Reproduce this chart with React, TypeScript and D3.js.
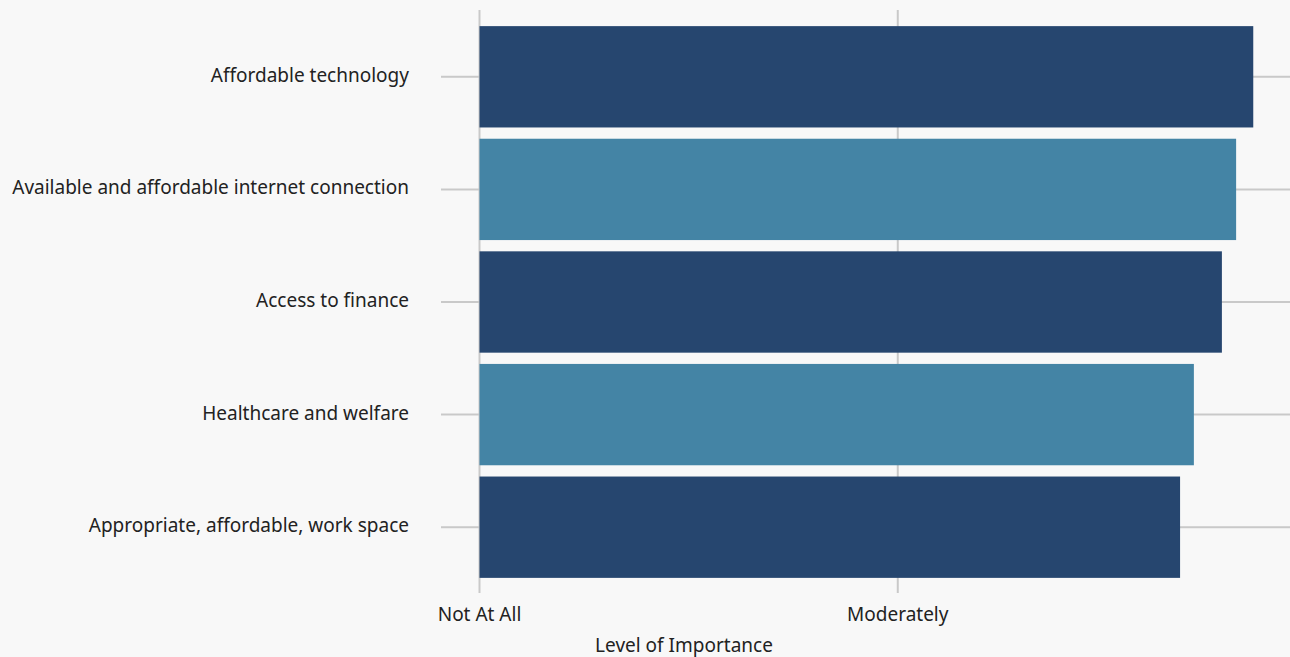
import React from "react";
import * as d3 from "d3";

const categories = [
  "Affordable technology",
  "Available and affordable internet connection",
  "Access to finance",
  "Healthcare and welfare",
  "Appropriate, affordable, work space",
];
const values = [1.85, 1.809, 1.775, 1.708, 1.675];
const tickValues = [0, 1];
const tickLabels = ["Not At All", "Moderately"];
const colors = ["#26466f", "#4484a5"];

const W = 1290;
const H = 657;
const FONT = "'Noto Sans', sans-serif";
const FS = 19;

export default function App() {
  const x = d3.scaleLinear().domain([0, 2]).range([479.5, 1316]);
  const y = d3
    .scaleBand<string>()
    .domain(categories)
    .range([20.5, 583.5])
    .paddingInner(0.1)
    .paddingOuter(0.05);
  const grid = "#c9c9c9";
  return (
    <svg
      width={W}
      height={H}
      style={{ position: "fixed", left: 0, top: 0, background: "#f8f8f8" }}
    >
      <rect x={0} y={0} width={W} height={H} fill="#f8f8f8" />
      {tickValues.map((t) => (
        <line key={"v" + t} x1={x(t)} x2={x(t)} y1={10} y2={593} stroke={grid} strokeWidth={2} />
      ))}
      {categories.map((c) => {
        const cy = (y(c) ?? 0) + y.bandwidth() / 2;
        return <line key={"h" + c} x1={441} x2={W} y1={cy} y2={cy} stroke={grid} strokeWidth={2} />;
      })}
      {categories.map((c, i) => (
        <rect
          key={"b" + c}
          x={x(0)}
          y={y(c)}
          width={x(values[i]) - x(0)}
          height={y.bandwidth()}
          fill={colors[i % 2]}
        />
      ))}
      {categories.map((c) => {
        const cy = (y(c) ?? 0) + y.bandwidth() / 2;
        return (
          <text
            key={"l" + c}
            x={409}
            y={cy - 1}
            dy="0.32em"
            textAnchor="end"
            fontFamily={FONT}
            fontSize={FS}
            fill="#222"
          >
            {c}
          </text>
        );
      })}
      {tickValues.map((t, i) => (
        <text
          key={"t" + t}
          x={x(t)}
          y={621}
          textAnchor="middle"
          fontFamily={FONT}
          fontSize={FS}
          fill="#222"
        >
          {tickLabels[i]}
        </text>
      ))}
      <text x={684} y={652} textAnchor="middle" fontFamily={FONT} fontSize={FS} fill="#222">
        Level of Importance
      </text>
    </svg>
  );
}
